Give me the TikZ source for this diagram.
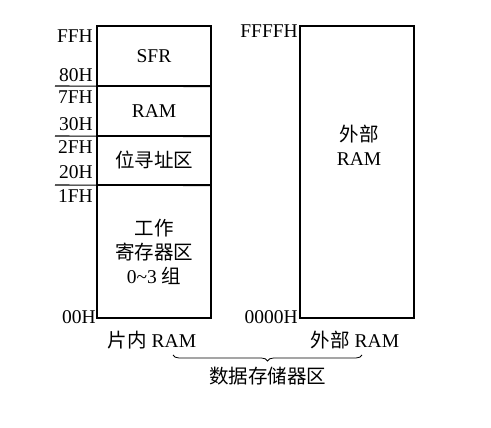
\documentclass[tikz,border=0pt]{standalone}
\usepackage{fontspec}
\setmainfont{Liberation Serif}
\newfontfamily\cjk{Noto Sans CJK SC}
\usetikzlibrary{decorations.pathreplacing}
\tikzset{
  region/.style={draw, line width=1.1pt, minimum width=114pt, inner sep=0pt, align=center},
  addr/.style={anchor=east, inner sep=1pt},
}
\begin{document}
\begin{tikzpicture}[x=1pt, y=-1pt, font=\fontsize{19.5}{24}\selectfont]
\useasboundingbox (0,0) rectangle (491,428);
\fill[white] (0,0) rectangle (491,428);

% On-chip RAM, stacked regions
\node[region, minimum height=60pt] (sfr) at (154,56) {SFR};
\node[region, minimum height=50pt] (ram) at (154,111) {RAM};
\node[region, minimum height=49pt] (bit) at (154,160.5) {{\cjk 位寻址区}};
\node[region, minimum height=133pt] (work) at (154,251.5) {{\cjk 工作}\\{\cjk 寄存器区}\\0\char`~3 {\cjk 组}};

% Divider lines under the address labels
\draw[line width=1.1pt] (55,86) -- (sfr.south east);
\draw[line width=1.1pt] (55,136) -- (ram.south east);
\draw[line width=1.1pt] (55,185) -- (bit.south east);

% Addresses of on-chip RAM
\node[addr] (a1) at (94,36) {FFH};
\node[addr] (a2) at (94,75) {80H};
\node[addr] (a3) at (94,97) {7FH};
\node[addr] (a4) at (94,124) {30H};
\node[addr] (a5) at (94,147) {2FH};
\node[addr] (a6) at (94,172) {20H};
\node[addr] (a7) at (94,196) {1FH};
\node[addr] (a8) at (97,317) {00H};

% External RAM
\node[region, minimum height=292pt] (ext) at (357,172) {};
\node[align=center] (extlbl) at (359,145) {{\cjk 外部}\\RAM};
\node[addr] (b1) at (299,31) {FFFFH};
\node[addr] (b2) at (299,317) {0000H};

% Captions
\node (inlbl) at (152,340) {{\cjk 片内} RAM};
\node (outlbl) at (355,340) {{\cjk 外部} RAM};
\coordinate (brl) at (173,355);
\coordinate (brr) at (362,355);
\draw[thick, decorate, decoration={brace, mirror, amplitude=6pt}] (brl) -- (brr)
  node[midway, below=8pt] (all) {\cjk 数据存储器区};

\end{tikzpicture}
\end{document}
